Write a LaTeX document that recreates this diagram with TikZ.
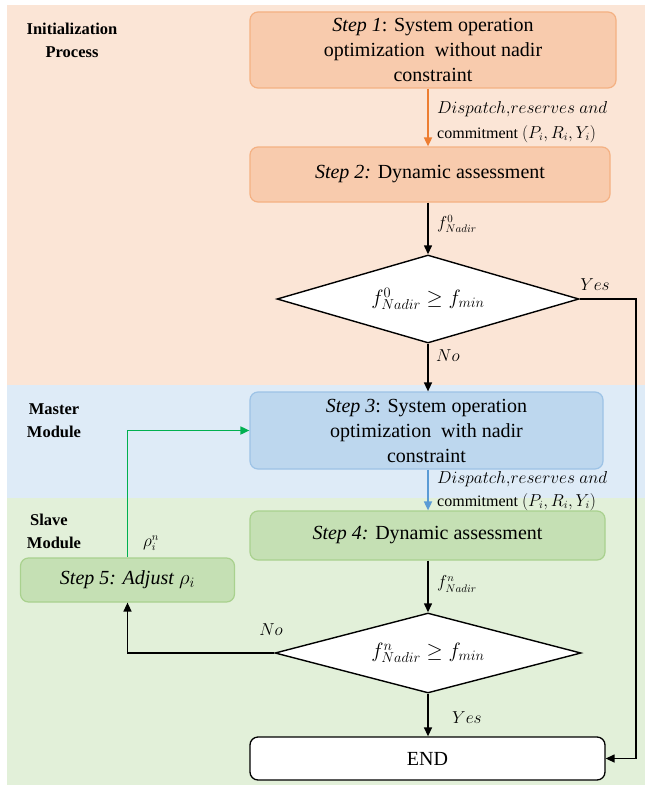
\documentclass[tikz,border=0pt]{standalone}
\usepackage{fontspec}
\setmainfont{Liberation Serif}
\usetikzlibrary{shapes.geometric,arrows.meta}
\definecolor{bgO}{HTML}{FBE5D6}
\definecolor{bgB}{HTML}{DEEBF7}
\definecolor{bgG}{HTML}{E2F0D9}
\definecolor{fO}{HTML}{F8CBAD}
\definecolor{lO}{HTML}{F4B183}
\definecolor{fB}{HTML}{BDD7EE}
\definecolor{lB}{HTML}{9DC3E6}
\definecolor{fG}{HTML}{C5E0B4}
\definecolor{lG}{HTML}{A9D18E}
\definecolor{aO}{HTML}{ED7D31}
\definecolor{aB}{HTML}{5B9BD5}
\definecolor{aG}{HTML}{00B050}
\tikzset{
  stepbox/.style={rectangle, rounded corners=8pt, line width=1.2pt, align=center, inner sep=2pt,
    font=\fontsize{20}{25}\selectfont},
  dia/.style={diamond, draw=black, fill=white, line width=1.4pt, minimum width=302pt, minimum height=88pt,
    inner sep=0pt, shape aspect=3.4, font=\fontsize{22}{25}\selectfont},
  lbl/.style={font=\fontsize{16}{18}\selectfont, inner sep=0pt},
  mlbl/.style={font=\fontsize{17.5}{18}\selectfont, inner sep=0pt},
  side/.style={font=\fontsize{16.5}{20}\selectfont\bfseries, inner sep=0pt},
  tip/.style={-{Triangle[length=9pt,width=8pt]}},
  barrow/.style={tip, draw=black, line width=1.4pt},
  carrow/.style={tip, line width=1.7pt},
}
\begin{document}
\begin{tikzpicture}[x=1pt,y=-1pt]
\useasboundingbox (0,0) rectangle (645,789);
\fill[bgO] (7,5) rectangle (645,385);
\fill[bgB] (7,385) rectangle (645,498);
\fill[bgG] (7,498) rectangle (645,785);

% side labels
\node[side] (t1a) at (72,29) {Initialization};
\node[side] (t1b) at (72,52) {Process};
\node[side] (t2a) at (54,409) {Master};
\node[side] (t2b) at (54,432) {Module};
\node[side] (t3a) at (49,520) {Slave};
\node[side] (t3b) at (54,543) {Module};

% boxes
\node[stepbox, fill=fO, draw=lO, minimum width=366pt, minimum height=76pt] (s1) at (433,50)
  {\textit{Step 1}: System operation\\optimization\ \ without nadir\\constraint};
\node[stepbox, fill=fO, draw=lO, minimum width=360pt, minimum height=55pt] (s2) at (430,174.5)
  {\textit{Step 2:} Dynamic assessment};
\node[dia] (d1) at (428,299) {$f^{0}_{Nadir}\geq f_{min}$};
\node[stepbox, fill=fB, draw=lB, minimum width=353pt, minimum height=77pt] (s3) at (426.5,430.5)
  {\textit{Step 3}: System operation\\optimization\ \ with nadir\\constraint};
\node[stepbox, fill=fG, draw=lG, minimum width=355pt, minimum height=49pt] (s4) at (427.5,535.5)
  {\textit{Step 4:} Dynamic assessment};
\node[stepbox, fill=fG, draw=lG, minimum width=214pt, minimum height=44pt] (s5) at (127.5,580)
  {\textit{Step 5: Adjust} $\rho_i$};
\node[dia, minimum width=306pt, minimum height=80pt] (d2) at (428,653) {$f^{n}_{Nadir}\geq f_{min}$};
\node[stepbox, fill=white, draw=black, line width=1.3pt, minimum width=355pt, minimum height=43pt] (e) at (427.5,758.5)
  {END};

% connectors
\draw[carrow, draw=aO] (s1.south -| d1) -- (s2.north -| d1);
\node[mlbl, anchor=west] (l1a) at (437,109) {$Dispatch{,}reserves\ and$};
\node[lbl, anchor=west] (l1b) at (437,134) {commitment $(P_i,R_i,Y_i)$};

\draw[barrow] (s2.south -| d1) -- (d1.north);
\node[lbl, anchor=west] (f0) at (437,224) {$f^{0}_{Nadir}$};

\draw[barrow] (d1.south) -- (s3.north -| d1);
\node[mlbl, anchor=west] (no1) at (436,356) {$No$};

\coordinate (yx) at (636,0);
\draw[barrow] (d1.east) -- (d1.east -| yx) -- (yx |- e.east) -- (e.east);
\node[mlbl] (yes1) at (595,285) {$Yes$};

\draw[carrow, draw=aB] (s3.south -| d2) -- (s4.north -| d2);
\node[mlbl, anchor=west] (l2a) at (437,479) {$Dispatch{,}reserves\ and$};
\node[lbl, anchor=west] (l2b) at (437,502) {commitment $(P_i,R_i,Y_i)$};

\draw[barrow] (s4.south -| d2) -- (d2.north);
\node[lbl, anchor=west] (fn) at (437,584) {$f^{n}_{Nadir}$};

\draw[barrow] (d2.west) -| (s5.south);
\node[mlbl] (no2) at (271,630) {$No$};

\draw[carrow, draw=aG] (s5.north) |- (s3.west);
\node[lbl] (rho) at (151,543) {$\rho_i^{n}$};

\draw[barrow] (d2.south) -- (e.north -| d2);
\node[mlbl, anchor=west] (yes2) at (452,718) {$Yes$};
\end{tikzpicture}
\end{document}
